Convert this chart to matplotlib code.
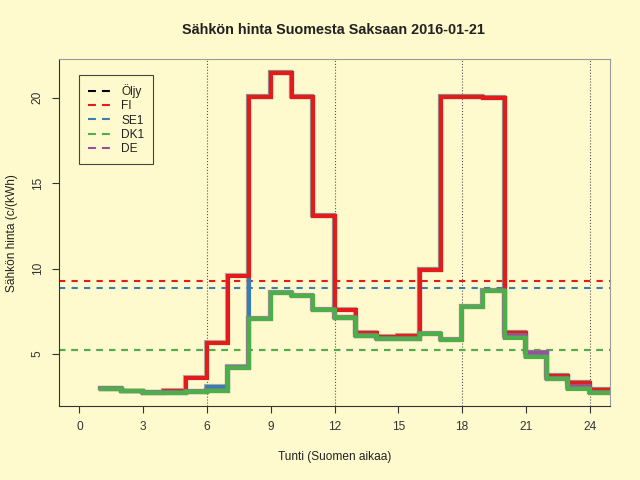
import numpy as np
import matplotlib.pyplot as plt
import matplotlib.patheffects as pe
from matplotlib.lines import Line2D

# hourly prices c/kWh, hour h drawn from h to h+1
hours = np.arange(1, 26)
fi = [2.97, 2.8, 2.7, 2.85, 3.6, 5.66, 9.57, 20.06, 21.46, 20.06, 13.1, 7.57,
      6.2, 5.99, 6.05, 9.9, 20.05, 20.05, 20.0, 6.2, 5.05, 3.73, 3.27, 2.9]
se1 = [2.97, 2.8, 2.7, 2.72, 2.75, 3.07, 4.26, 20.06, 21.46, 20.06, 13.1, 7.08,
       6.05, 5.85, 5.85, 9.9, 20.05, 20.05, 20.0, 6.2, 5.05, 3.73, 3.27, 2.9]
dk1 = [2.97, 2.8, 2.7, 2.72, 2.75, 2.84, 4.16, 7.04, 8.54, 8.4, 7.55, 7.08,
       6.05, 5.85, 5.85, 6.15, 5.8, 7.76, 8.66, 5.91, 4.8, 3.56, 2.94, 2.7]
de = [2.97, 2.8, 2.7, 2.72, 2.75, 2.84, 4.16, 7.04, 8.54, 8.4, 7.55, 7.08,
      6.05, 5.85, 5.85, 6.15, 5.8, 7.76, 8.66, 6.07, 5.08, 3.56, 3.09, 2.7]

names = ['Öljy', 'FI', 'SE1', 'DK1', 'DE']
colors = {'Öljy': 'black', 'FI': '#E41A1C', 'SE1': '#377EB8',
          'DK1': '#4DAF4A', 'DE': '#984EA3'}
series = {'FI': fi, 'SE1': se1, 'DE': de, 'DK1': dk1}

bg = '#FFFACD'
plt.rcParams['font.family'] = ['Liberation Sans', 'DejaVu Sans']

fig = plt.figure(figsize=(6.4, 4.8), dpi=100, facecolor=bg)
ax = fig.add_axes([59/640, 74/480, 551/640, 346.7/480], facecolor=bg)

for x in [6, 12, 18, 24]:
    ax.axvline(x, color='#555555', ls=':', lw=0.8, zorder=1)

# daily means as dashed lines
for name in ['DE', 'DK1', 'SE1', 'FI']:
    ax.axhline(np.mean(series[name]), color=colors[name], lw=1.5,
               dashes=(3, 3), zorder=2)

shadow = [pe.SimpleLineShadow(offset=(-0.7, 0.7), shadow_color='gray', alpha=0.6),
          pe.Normal()]
for name in ['SE1', 'FI', 'DE', 'DK1']:
    y = series[name] + [series[name][-1]]
    ax.step(hours, y, where='post', color=colors[name], lw=3,
            solid_joinstyle='miter', path_effects=shadow, zorder=3)

ax.set_xlim(-0.96, 24.96)
ax.set_ylim(1.95, 22.25)
ax.set_xticks(range(0, 25, 3))
ax.set_yticks([5, 10, 15, 20])
ax.tick_params(length=5, width=0.8, colors='#333333', labelsize=8.6, pad=6)
for lab in ax.get_yticklabels():
    lab.set_rotation(90)
    lab.set_va('center')
ax.spines['left'].set_color('#333333')
ax.spines['bottom'].set_color('#333333')
ax.spines['top'].set_color('#999999')
ax.spines['right'].set_color('#999999')

handles = [Line2D([], [], color=colors[n], lw=1.5, dashes=(3.8, 2.9)) for n in names]
leg = ax.legend(handles, names, loc='upper left', bbox_to_anchor=(0.036, 0.955),
                fontsize=8.6, handlelength=1.85, handletextpad=0.95,
                labelspacing=0.2, borderpad=0.75, borderaxespad=0,
                fancybox=False, facecolor=bg, edgecolor='#444444', framealpha=1)
leg.get_frame().set_linewidth(0.8)
for t in leg.get_texts():
    t.set_color('#222222')

fig.text(0.521, 0.9375, 'Sähkön hinta Suomesta Saksaan 2016-01-21',
         ha='center', va='center', fontsize=10.4, fontweight='bold', color='#222222')
fig.text(0.523, 1 - 457/480, 'Tunti (Suomen aikaa)', ha='center', va='center',
         fontsize=8.6, color='#222222')
fig.text(12/640, 1 - 233/480, 'Sähkön hinta (c/(kWh)', ha='center', va='center',
         rotation=90, fontsize=8.6, color='#222222')

fig.savefig('out.png', dpi=100, facecolor=bg)
